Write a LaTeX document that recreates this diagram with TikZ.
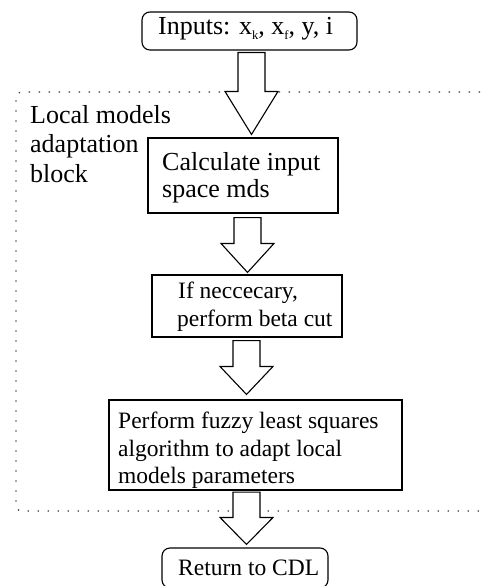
\documentclass[tikz,border=0pt]{standalone}
\usepackage{fontspec}
\setmainfont{Liberation Serif}
\usetikzlibrary{calc}

\newcommand\bigtxt{\fontsize{26}{27}\selectfont}
\newcommand\smalltxt{\fontsize{23.5}{27.5}\selectfont}
% small lowered index letter
\newcommand\idx[1]{\raisebox{-4.5pt}{\fontsize{12.5}{12.5}\selectfont #1}}

\tikzset{
  procbox/.style={draw, line width=1.1pt, rectangle, inner sep=0pt},
  termbox/.style={draw, line width=1.1pt, rectangle, rounded corners=8pt, inner sep=0pt},
  txt/.style={inner sep=0pt, align=left, anchor=north west},
  fatarrow/.style={draw, line width=1.1pt, fill=white, line join=miter},
  dotframe/.style={draw=black!80, line width=1.3pt, dash pattern=on 1.3pt off 8.7pt, rounded corners=5pt}
}

% block arrow: #1 start of shaft, #2 tip, #3 head length
\newcommand\blockarrow[3]{%
  \path[fatarrow] let \p1=(#1), \p2=(#2) in
    (\x1-13.5pt,\y1) -- (\x1+13.5pt,\y1) -- (\x1+13.5pt,\y2+#3)
    -- (\x1+26.5pt,\y2+#3) -- (\x1,\y2) -- (\x1-26.5pt,\y2+#3)
    -- (\x1-13.5pt,\y2+#3) -- cycle;}

\begin{document}
\begin{tikzpicture}[x=1pt, y=-1pt]
\useasboundingbox (0,0) rectangle (483,586);

% dotted frame of the adaptation block
\draw[dotframe] (500,92) -- (16,92) -- (16,511) -- (500,511);
\node[txt, font=\bigtxt] (blocklbl) at (30,105.2) {Local models\\[2.5pt]adaptation\\[2.5pt]block};

% terminals
\node[termbox, minimum width=215pt, minimum height=38pt] (inp) at (249.5,31) {};
\node[inner sep=0pt, anchor=base west, font=\bigtxt] (inptxt) at (158,35)
  {Inputs: x\idx{k}, x\idx{f}, y, i};

\node[termbox, minimum width=166pt, minimum height=40pt] (ret) at (245,568) {};
\node[inner sep=0pt, anchor=base west, font=\smalltxt] (rettxt) at (178,575) {Return to CDL};

% process steps
\node[procbox, minimum width=190pt, minimum height=75pt] (b1) at (243,175.5) {};
\node[txt, font=\bigtxt] (b1txt) at (162,152.2) {Calculate input\\space mds};

\node[procbox, minimum width=190pt, minimum height=62pt] (b2) at (247,306) {};
\node[txt, font=\smalltxt] (b2txt) at (177,282) {\hspace{1pt}If neccecary,\\perform beta cut};

\node[procbox, minimum width=293pt, minimum height=90pt] (b3) at (255.5,445) {};
\node[txt, font=\smalltxt] (b3txt) at (118,412)
  {Perform fuzzy least squares\\algorithm to adapt local\\models parameters};

% arrow anchors
\coordinate (a1s) at ($(inp.south)+(2,2)$);
\coordinate (a1e) at ($(b1.north)+(8.5,-3)$);
\coordinate (a2s) at ($(b1.south)+(4.5,4)$);
\coordinate (a2e) at ($(b2.north)+(0.5,-2)$);
\coordinate (a3s) at ($(b2.south)+(-0.5,3)$);
\coordinate (a3e) at ($(b3.north)+(-9,-5)$);
\coordinate (a4s) at ($(b3.south)+(-9,1.5)$);
\coordinate (a4e) at ($(ret.north)+(1.5,-3)$);

\blockarrow{a1s}{a1e}{43pt}
\blockarrow{a2s}{a2e}{29pt}
\blockarrow{a3s}{a3e}{28pt}
\blockarrow{a4s}{a4e}{27pt}
\end{tikzpicture}
\end{document}
